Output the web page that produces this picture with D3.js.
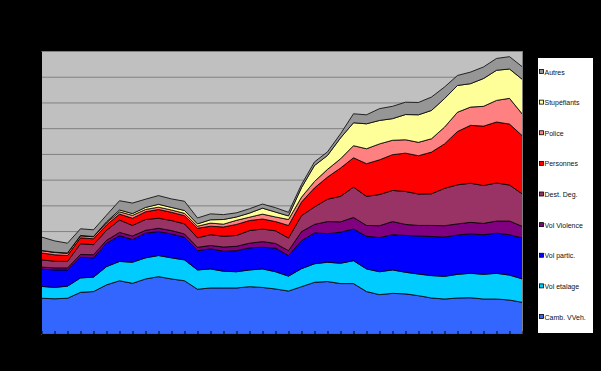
<!DOCTYPE html>
<html>
<head>
<meta charset="utf-8">
<script src="https://cdn.jsdelivr.net/npm/d3@7"></script>
<style>
html,body{margin:0;padding:0;background:#000;}
svg{display:block;}
</style>
</head>
<body>
<script>
// ---- data ----
const categories = ["1","2","3","4","5","6","7","8","9","10","11","12","13","14","15","16","17","18","19","20","21","22","23","24","25","26","27","28","29","30","31","32","33","34","35","36","37","38"];
const seriesNames = ["Camb. VVeh.","Vol etalage","Vol partic.","Vol Violence","Dest. Deg.","Personnes","Police","Stupéfiants","Autres"];
const camb      = [139,137,139,162,165,191,207,197,214,223,214,207,174,179,179,179,184,181,175,167,184,201,204,196,196,165,153,158,156,149,140,136,140,141,136,136,132,123];
const etalage   = [46,44,47,56,56,71,75,82,82,82,82,81,75,74,65,63,65,72,67,58,70,72,75,79,89,88,89,91,84,84,87,88,92,95,96,100,97,91];
const partic    = [67,68,63,80,75,91,100,88,96,93,93,88,75,78,78,82,86,84,92,80,109,120,111,121,123,127,133,137,143,148,152,153,153,153,154,156,157,159];
const violence  = [8,8,8,11,12,11,13,14,11,13,13,13,13,13,16,17,18,22,18,19,35,33,47,40,45,42,46,51,43,41,43,44,43,45,44,47,53,45];
const dest      = [28,26,25,42,39,39,48,41,42,39,39,39,37,42,42,42,49,49,49,49,62,68,87,99,118,113,121,121,128,122,123,145,152,152,147,148,140,126];
const personnes = [27,25,23,23,23,21,23,28,30,34,32,32,37,33,36,43,39,39,36,49,53,74,86,110,114,127,135,139,149,149,162,173,207,225,231,237,237,226];
const police    = [9,9,9,8,8,8,9,11,9,9,9,9,8,12,11,16,13,19,18,23,19,25,30,36,47,58,62,56,52,52,52,65,75,71,77,84,100,84];
const stup      = [1,1,1,1,1,4,7,7,8,11,10,11,9,13,18,13,16,23,19,14,37,62,54,81,89,97,91,84,98,107,110,111,104,91,108,117,114,135];
const autres    = [52,44,38,26,26,26,36,41,32,34,33,36,23,23,19,16,17,16,17,14,12,14,14,16,35,35,46,48,48,48,52,45,39,45,45,46,48,49];
const yTicks = [0,100,200,300,400,500,600,700,800,900,1000,1100];
const colors = ["#3366FF","#00CCFF","#0000FF","#800080","#993366","#FF0000","#FF8080","#FFFF99","#969696"];

const seriesValues = [camb, etalage, partic, violence, dest, personnes, police, stup, autres];
const table = categories.map((c, i) => {
  const row = {cat: c};
  seriesNames.forEach((n, k) => row[n] = seriesValues[k][i]);
  return row;
});

// ---- layout ----
const W = 601, H = 371;
const plot = {left: 41, top: 51, right: 522.5, bottom: 334};

const svg = d3.select("body").append("svg").attr("width", W).attr("height", H);
svg.append("rect").attr("width", W).attr("height", H).attr("fill", "#000");

const x = d3.scalePoint().domain(categories).range([plot.left + 0.5, plot.right]);
const y = d3.scaleLinear().domain([0, 1100]).range([plot.bottom, plot.top]);

// plot background
svg.append("rect")
  .attr("x", plot.left).attr("y", plot.top)
  .attr("width", plot.right - plot.left).attr("height", plot.bottom - plot.top)
  .attr("fill", "#C0C0C0");

// gridlines
const grid = svg.append("g").attr("transform", `translate(${plot.left},0)`)
  .call(d3.axisLeft(y).tickValues(yTicks).tickSize(-(plot.right - plot.left)).tickFormat(""));
grid.select(".domain").remove();
grid.selectAll("line").attr("stroke", "#808080").attr("stroke-width", 1);

// stacked areas
const stack = d3.stack().keys(seriesNames);
const layers = stack(table);
const area = d3.area()
  .x(d => x(d.data.cat))
  .y0(d => y(d[0]))
  .y1(d => y(d[1]));

svg.append("g").selectAll("path").data(layers).join("path")
  .attr("d", area)
  .attr("fill", (d, i) => colors[i])
  .attr("stroke", "#000")
  .attr("stroke-width", 0.8)
  .attr("stroke-linejoin", "round");

// plot border (top / right)
svg.append("rect")
  .attr("x", plot.left + 0.5).attr("y", plot.top + 0.5)
  .attr("width", plot.right - plot.left - 0.5).attr("height", plot.bottom - plot.top - 0.5)
  .attr("fill", "none").attr("stroke", "#808080").attr("stroke-width", 1);

// x axis with inner ticks
const xa = svg.append("g").attr("transform", `translate(0,${plot.bottom})`)
  .call(d3.axisBottom(x).tickSize(-3).tickSizeOuter(0).tickFormat(""));
xa.selectAll("line").attr("stroke", "#000");
xa.select(".domain").attr("stroke", "#000");

// y axis line
const ya = svg.append("g").attr("transform", `translate(${plot.left},0)`)
  .call(d3.axisLeft(y).tickValues(yTicks).tickSize(0).tickFormat(""));
ya.select(".domain").attr("stroke", "#000");

// legend
const lg = svg.append("g");
lg.append("rect").attr("x", 537.5).attr("y", 57.5).attr("width", 56).attr("height", 276)
  .attr("fill", "#fff").attr("stroke", "#000");
const legendOrder = seriesNames.map((n, i) => ({name: n, color: colors[i]})).reverse();
const ly = d3.scalePoint().domain(legendOrder.map(d => d.name)).range([72, 317]);
const items = lg.selectAll("g.item").data(legendOrder).join("g")
  .attr("class", "item")
  .attr("transform", d => `translate(539,${ly(d.name)})`);
items.append("rect").attr("x", 0.5).attr("y", -2.5).attr("width", 4).attr("height", 4)
  .attr("fill", d => d.color).attr("stroke", "#000").attr("stroke-width", 0.8);
items.append("text").attr("x", 5.5).attr("y", 2.5)
  .attr("font-family", "Liberation Sans, Arial, sans-serif")
  .attr("font-size", 7).attr("fill", "#111")
  .text(d => d.name);
</script>
</body>
</html>
